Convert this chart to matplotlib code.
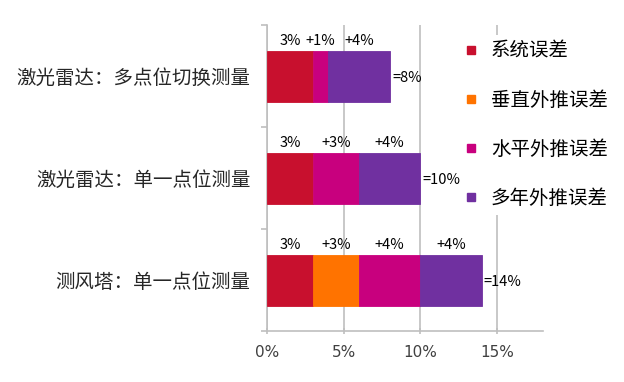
import matplotlib

matplotlib.use("Agg")
import matplotlib.pyplot as plt
from matplotlib.lines import Line2D
import numpy as np

plt.rcParams["font.family"] = ["Noto Sans CJK SC", "DejaVu Sans"]

# 数据（单位：%）
categories = ["激光雷达：多点位切换测量", "激光雷达：单一点位测量", "测风塔：单一点位测量"]
series_names = ["系统误差", "垂直外推误差", "水平外推误差", "多年外推误差"]
system_err = [3, 3, 3]
vertical_err = [0, 0, 3]
horizontal_err = [1, 3, 4]
multiyear_err = [4, 4, 4]
seg_labels = [
    ["3%", "", "+1%", "+4%"],
    ["3%", "", "+3%", "+4%"],
    ["3%", "+3%", "+4%", "+4%"],
]
total_labels = ["=8%", "=10%", "=14%"]
xticks = [0, 5, 10, 15]
xtick_labels = ["0%", "5%", "10%", "15%"]

colors = ["#C8102E", "#FF7300", "#C8007E", "#7030A0"]
GRID = "#BFBFBF"

fig = plt.figure(figsize=(6.24, 3.82), dpi=100)
ax = fig.add_axes([0.428, 0.1335, 0.442, 0.801])

y = np.arange(len(categories))
series = [system_err, vertical_err, horizontal_err, multiyear_err]
left = np.zeros(len(categories))
for vals, col, name in zip(series, colors, series_names):
    vals = np.array(vals, dtype=float)
    ax.barh(y, vals, left=left, height=0.5, color=col, edgecolor=col,
            linewidth=0.6, label=name, zorder=3)
    left += vals

# 分段标签（在条形上方）+ 合计
for i in range(len(categories)):
    start = 0.0
    for j, vals in enumerate(series):
        v = vals[i]
        if v > 0 and seg_labels[i][j]:
            ax.text(start + v / 2, y[i] - 0.27, seg_labels[i][j], ha="center",
                    va="bottom", fontsize=10.5, color="black", zorder=6)
        start += v
    ax.text(start + 0.15, y[i] + 0.02, total_labels[i], ha="left", va="center",
            fontsize=10.5, color="black", zorder=6)

ax.set_xlim(0, 18)
ax.set_ylim(2.5, -0.5)
ax.set_xticks(xticks)
ax.set_xticklabels(xtick_labels, fontsize=11, color="#404040")
for t in ax.get_xticklabels():
    t.set_family("DejaVu Sans")
ax.set_yticks(y)
ax.set_yticklabels(categories, fontsize=14, color="#262626")
ax.set_yticks([-0.5, 0.5, 1.5, 2.5], minor=True)
ax.tick_params(axis="y", which="major", length=0, pad=12)
ax.tick_params(axis="y", which="minor", length=4, color=GRID, width=1.2)
ax.tick_params(axis="x", length=4, direction="inout", color=GRID, width=1.2,
               pad=8)

ax.grid(axis="x", color=GRID, linewidth=1.2, zorder=0)
ax.set_axisbelow(True)
for s in ["top", "right"]:
    ax.spines[s].set_visible(False)
for s in ["left", "bottom"]:
    ax.spines[s].set_color(GRID)
    ax.spines[s].set_linewidth(1.2)

# 图例白底盖住 15% 网格线上半段，但在数据标签之下
handles = [Line2D([], [], marker="s", linestyle="none", markersize=6,
                  color=c) for c in colors]
leg = ax.legend(handles, series_names, loc="upper left",
                bbox_to_anchor=(0.718, 0.935),
                bbox_transform=fig.transFigure, frameon=True, fontsize=14,
                handlelength=0.8, handletextpad=0.6, labelspacing=1.45,
                borderpad=0.3)
leg.get_frame().set_facecolor("white")
leg.get_frame().set_edgecolor("none")
leg.get_frame().set_alpha(1)
leg.set_zorder(5)

fig.savefig("out.png", dpi=100)
